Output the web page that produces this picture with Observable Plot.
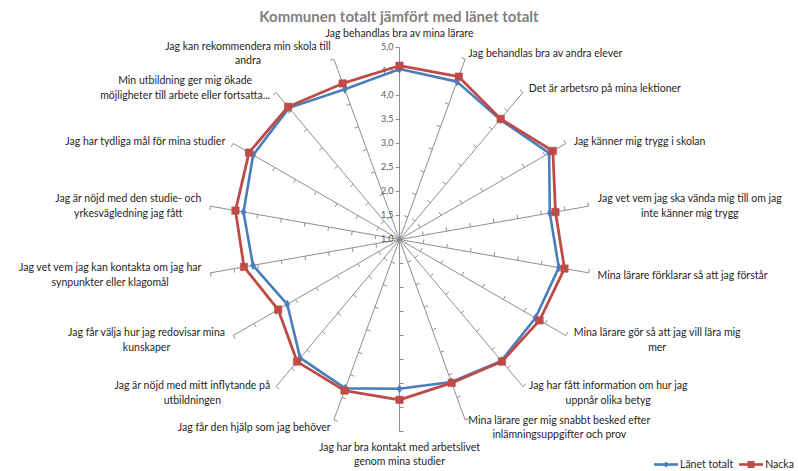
<!DOCTYPE html>
<html><head><meta charset="utf-8">
<script src="https://cdn.jsdelivr.net/npm/d3@7"></script>
<script src="https://cdn.jsdelivr.net/npm/@observablehq/plot@0.6"></script>
<style>
body{margin:0;background:#fff;}
#wrap{position:relative;width:798px;height:471px;overflow:hidden;font-family:Lato,"Liberation Sans",sans-serif;}
#title{position:absolute;top:8px;left:0;width:798px;text-align:center;font-weight:bold;font-size:15px;color:#808080;line-height:16px;}
#chart{position:absolute;left:0;top:0;}
#legend{position:absolute;left:654px;top:457px;font-size:10.5px;color:#262626;display:flex;flex-wrap:nowrap;white-space:nowrap;align-items:center;line-height:14px;}
#legend span.item{display:flex;flex-shrink:0;align-items:center;margin-right:6px;}
</style></head><body>
<div id="wrap"><div id="chart"></div><div id="title">Kommunen totalt jämfört med länet totalt</div><div id="legend"></div></div>
<script>
const categories = [
  "Jag behandlas bra av mina lärare",
  "Jag behandlas bra av andra elever",
  "Det är arbetsro på mina lektioner",
  "Jag känner mig trygg i skolan",
  "Jag vet vem jag ska vända mig till om jag\ninte känner mig trygg",
  "Mina lärare förklarar så att jag förstår",
  "Mina lärare gör så att jag vill lära mig\nmer",
  "Jag har fått information om hur jag\nuppnår olika betyg",
  "Mina lärare ger mig snabbt besked efter\ninlämningsuppgifter och prov",
  "Jag har bra kontakt med arbetslivet\ngenom mina studier",
  "Jag får den hjälp som jag behöver",
  "Jag är nöjd med mitt inflytande på\nutbildningen",
  "Jag får välja hur jag redovisar mina\nkunskaper",
  "Jag vet vem jag kan kontakta om jag har\nsynpunkter eller klagomål",
  "Jag är nöjd med den studie- och\nyrkesvägledning jag fått",
  "Jag har tydliga mål för mina studier",
  "Min utbildning ger mig ökade\nmöjligheter till arbete eller fortsatta...",
  "Jag kan rekommendera min skola till\nandra"
];
const lanetTotalt = [4.55, 4.50, 4.26, 4.60, 4.18, 4.37, 4.27, 4.30, 4.16, 4.11, 4.30, 4.22, 3.70, 4.10, 4.30, 4.52, 4.58, 4.33];
const nacka       = [4.62, 4.61, 4.28, 4.69, 4.30, 4.49, 4.37, 4.32, 4.18, 4.34, 4.35, 4.32, 3.92, 4.29, 4.47, 4.62, 4.61, 4.46];
const seriesNames = ["Länet totalt", "Nacka"];
const tickValues = [1.0, 1.5, 2.0, 2.5, 3.0, 3.5, 4.0, 4.5, 5.0];
const tickLabels = ["1,0", "1,5", "2,0", "2,5", "3,0", "3,5", "4,0", "4,5", "5,0"];

const BLUE = "#4A7EBB", RED = "#BE4B48", GRID = "#828282", TXT = "#262626";
const W = 798, H = 471, CX = 399, CY = 239, U = 48; // px per value unit
const FONT = "Lato, 'Liberation Sans', sans-serif", FS = 10.5;
const vMin = tickValues[0], vMax = tickValues[tickValues.length - 1];
const N = categories.length;
const ang = i => i * 2 * Math.PI / N;
const pt = (i, v) => { const a = ang(i), r = v - vMin; return {x: r * Math.sin(a), y: r * Math.cos(a)}; };

const spokes = categories.map((c, i) => { const a = pt(i, vMin), b = pt(i, vMax); return {x1: a.x, y1: a.y, x2: b.x, y2: b.y}; });
const tl = 4 / U;
const tickMarks = [];
categories.forEach((c, i) => {
  const a = ang(i), px = -Math.cos(a), py = Math.sin(a);
  tickValues.slice(1).forEach(v => { const p = pt(i, v); tickMarks.push({x1: p.x, y1: p.y, x2: p.x + px * tl, y2: p.y + py * tl}); });
});
const valueLabels = tickValues.map((v, k) => ({x: 0, y: v - vMin, label: tickLabels[k]}));

const mk = (vals, name) => vals.map((v, i) => ({series: name, cat: categories[i], ...pt(i, v)}));
const lanetData = mk(lanetTotalt, seriesNames[0]);
const nackaData = mk(nacka, seriesNames[1]);

const ctx = document.createElement("canvas").getContext("2d");
ctx.font = `${FS}px ${FONT}`;
const labelData = categories.map((c, i) => {
  const a = ang(i), s = Math.sin(a), co = Math.cos(a), e = pt(i, vMax);
  const w = Math.max(...c.split("\n").map(l => ctx.measureText(l).width));
  if (Math.abs(s) < 0.1) {
    return {text: c, x: e.x, y: e.y + (co > 0 ? 11 : -9) / U, v: co > 0 ? "bottom" : "top"};
  }
  const ax = e.x + 9 * s / U, ay = e.y + 7 * co / U;
  return {text: c, x: ax + Math.sign(s) * w / 2 / U, y: ay, v: "middle"};
});

const plot = Plot.plot({
  width: W, height: H,
  margin: 0,
  x: {domain: [-CX / U, (W - CX) / U], axis: null},
  y: {domain: [-(H - CY) / U, CY / U], axis: null},
  style: {fontFamily: FONT, background: "white"},
  marks: [
    Plot.link(spokes, {x1: "x1", y1: "y1", x2: "x2", y2: "y2", stroke: GRID, strokeWidth: 0.9}),
    Plot.link(tickMarks, {x1: "x1", y1: "y1", x2: "x2", y2: "y2", stroke: GRID, strokeWidth: 0.9}),
    Plot.text(valueLabels, {x: "x", y: "y", text: "label", textAnchor: "end", dx: -6, fill: "#595959", fontSize: 9}),
    Plot.line(lanetData, {x: "x", y: "y", curve: "linear-closed", stroke: BLUE, strokeWidth: 2.6}),
    Plot.dot(lanetData, {x: "x", y: "y", symbol: "diamond", r: 2.6, fill: BLUE, stroke: BLUE, strokeWidth: 0.5}),
    Plot.line(nackaData, {x: "x", y: "y", curve: "linear-closed", stroke: RED, strokeWidth: 2.8}),
    Plot.dot(nackaData, {x: "x", y: "y", symbol: "square", r: 4.2, fill: RED, stroke: RED, strokeWidth: 0.5}),
    ...["middle", "top", "bottom"].map(va => Plot.text(labelData.filter(d => d.v === va), {
      x: "x", y: "y", text: "text", textAnchor: "middle", lineAnchor: va, lineHeight: 1.38,
      fill: TXT, fontSize: FS
    }))
  ]
});
document.getElementById("chart").appendChild(plot);

const lg = document.getElementById("legend");
const sym = {"Länet totalt": `<path d="M12,2.5 L15,5.5 L12,8.5 L9,5.5Z" fill="${BLUE}"/>`, "Nacka": `<rect x="8.5" y="2" width="7" height="7" fill="${RED}"/>`};
[[seriesNames[0], BLUE], [seriesNames[1], RED]].forEach(([n, col]) => {
  const s = document.createElement("span"); s.className = "item";
  s.innerHTML = `<svg width="24" height="11"><line x1="0" y1="5.5" x2="24" y2="5.5" stroke="${col}" stroke-width="2.6"/>${sym[n]}</svg><span style="margin-left:2px">${n}</span>`;
  lg.appendChild(s);
});
</script>
</body></html>
